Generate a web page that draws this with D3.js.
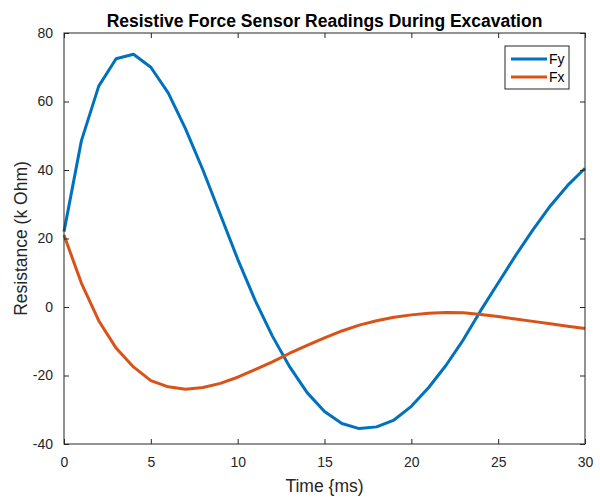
<!DOCTYPE html>
<html>
<head>
<meta charset="utf-8">
<script src="https://cdn.jsdelivr.net/npm/d3@7"></script>
<style>
  body { margin: 0; background: #fff; }
  svg { font-family: "Liberation Sans", Arial, sans-serif; }
</style>
</head>
<body>
<svg width="600" height="502"></svg>
<script>
// chart data
let time = d3.range(0, 31);
let fy = [22, 48.5, 64.5, 72.5, 73.8, 70, 62.5, 52, 40, 27, 14, 2, -8.5, -17.5, -25, -30.5, -34, -35.5, -35, -33,
          -29, -23.5, -17, -9.5, -1, 7, 15, 22.5, 29.5, 35.5, 40.5];
let fx = [21, 7, -4, -12, -17.5, -21.5, -23.3, -24, -23.5, -22.3, -20.5, -18.3, -16, -13.5, -11.2, -9, -7, -5.3, -4, -3,
          -2.3, -1.8, -1.6, -1.7, -2.2, -2.8, -3.5, -4.2, -4.9, -5.6, -6.3];
let xTicks = [0, 5, 10, 15, 20, 25, 30];
let yTicks = [-40, -20, 0, 20, 40, 60, 80];
let seriesNames = ["Fy", "Fx"];
let colors = ["#0072BD", "#D95319"];

let width = 600;
let height = 502;
let plotLeft = 64, plotRight = 585, plotTop = 33, plotBottom = 444;
let axisColor = "#262626";

let svg = d3.select("svg");

let xScale = d3.scaleLinear().domain([0, 30]).range([plotLeft, plotRight]);
let yScale = d3.scaleLinear().domain([-40, 80]).range([plotBottom, plotTop]);

// lines
let line = d3.line()
  .x((d, i) => xScale(time[i]))
  .y(d => yScale(d));

[fy, fx].forEach((s, i) => {
  svg.append("path")
    .datum(s)
    .attr("fill", "none")
    .attr("stroke", colors[i])
    .attr("stroke-width", 3)
    .attr("stroke-linejoin", "round")
    .attr("d", line);
});

// axes (ticks inside, box on), plain hyphen for negatives like the original
let fmt = d => String(d);
let styleAxis = g => {
  g.select(".domain").remove();
  g.selectAll(".tick line").attr("stroke", axisColor);
  g.selectAll(".tick text").attr("fill", axisColor).attr("font-size", 14)
    .attr("font-family", "Liberation Sans, Arial, sans-serif");
};

svg.append("g")
  .attr("transform", `translate(0, ${plotBottom})`)
  .call(d3.axisBottom(xScale).tickValues(xTicks).tickFormat(fmt).tickSizeInner(-5).tickSizeOuter(0).tickPadding(13))
  .call(styleAxis);

svg.append("g")
  .attr("transform", `translate(0, ${plotTop})`)
  .call(d3.axisTop(xScale).tickValues(xTicks).tickSizeInner(-5).tickSizeOuter(0).tickFormat(""))
  .call(styleAxis);

svg.append("g")
  .attr("transform", `translate(${plotLeft}, 0)`)
  .call(d3.axisLeft(yScale).tickValues(yTicks).tickFormat(fmt).tickSizeInner(-5).tickSizeOuter(0).tickPadding(11))
  .call(styleAxis);

svg.append("g")
  .attr("transform", `translate(${plotRight}, 0)`)
  .call(d3.axisRight(yScale).tickValues(yTicks).tickSizeInner(-5).tickSizeOuter(0).tickFormat(""))
  .call(styleAxis);

svg.append("rect")
  .attr("x", plotLeft).attr("y", plotTop)
  .attr("width", plotRight - plotLeft).attr("height", plotBottom - plotTop)
  .attr("fill", "none").attr("stroke", axisColor).attr("stroke-width", 1);

// title and labels
svg.append("text")
  .attr("x", (plotLeft + plotRight) / 2).attr("y", 27)
  .attr("text-anchor", "middle")
  .attr("font-size", 17.5).attr("font-weight", "bold").attr("fill", "#000")
  .text("Resistive Force Sensor Readings During Excavation");

svg.append("text")
  .attr("x", (plotLeft + plotRight) / 2).attr("y", 492)
  .attr("text-anchor", "middle")
  .attr("font-size", 17.5).attr("fill", axisColor)
  .text("Time {ms)");

svg.append("text")
  .attr("transform", `translate(27, ${(plotTop + plotBottom) / 2}) rotate(-90)`)
  .attr("text-anchor", "middle")
  .attr("font-size", 17.5).attr("fill", axisColor)
  .text("Resistance (k Ohm)");

// legend
let legend = svg.append("g").attr("transform", "translate(505, 46)");
legend.append("rect")
  .attr("width", 64).attr("height", 43)
  .attr("fill", "#fff").attr("stroke", axisColor).attr("stroke-width", 1);
seriesNames.forEach((name, i) => {
  legend.append("line")
    .attr("x1", 6).attr("x2", 42)
    .attr("y1", 13 + i * 18).attr("y2", 13 + i * 18)
    .attr("stroke", colors[i]).attr("stroke-width", 3);
  legend.append("text")
    .attr("x", 44).attr("y", 18 + i * 18)
    .attr("font-size", 14).attr("fill", "#000")
    .text(name);
});
</script>
</body>
</html>
